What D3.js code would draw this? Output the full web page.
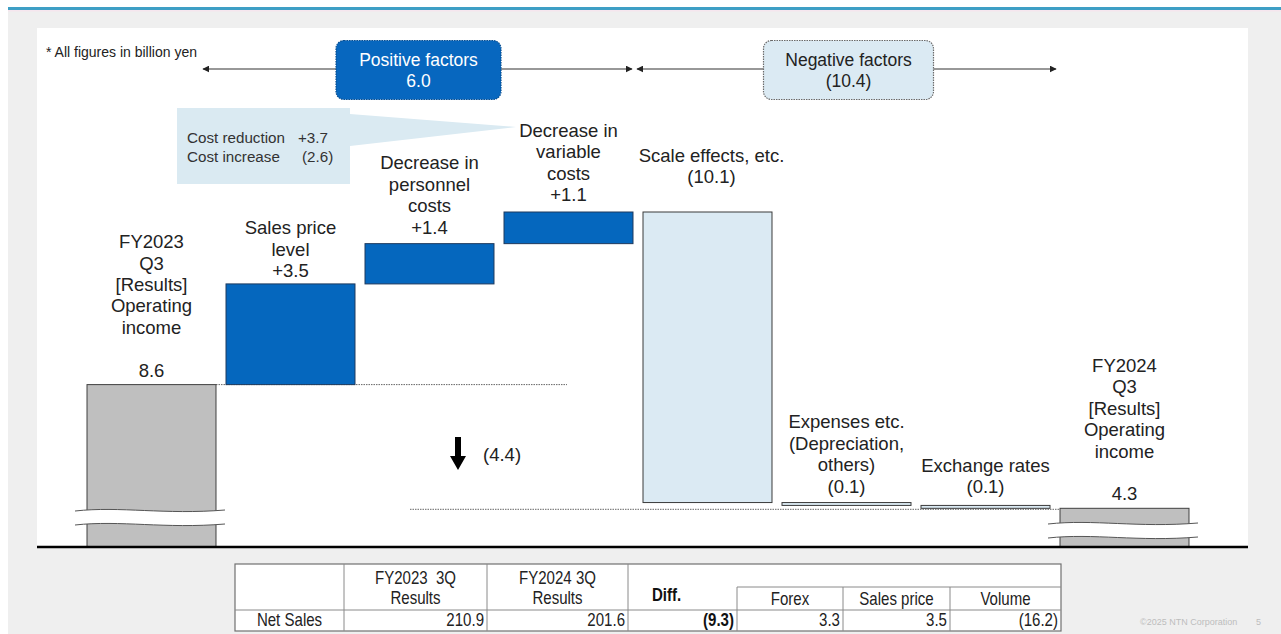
<!DOCTYPE html>
<html>
<head>
<meta charset="utf-8">
<script src="https://cdn.jsdelivr.net/npm/d3@7"></script>
<style>
  html, body { margin: 0; padding: 0; background: #fff; }
  svg { display: block; font-family: "Liberation Sans", Arial, sans-serif; }
</style>
</head>
<body>
<svg id="chart" width="1281" height="634"></svg>
<script>
// ---- data (billion yen) ----
const categories = ["FY2023 Q3", "Sales price level", "Personnel costs", "Variable costs",
                    "Scale effects", "Expenses etc.", "Exchange rates", "FY2024 Q3"];
const stepKinds  = ["total", "up", "up", "up", "down", "down", "down", "total"];
const stepValues = [8.6, 3.5, 1.4, 1.1, -10.1, -0.1, -0.1, 4.3];
const stepLabels = [
  ["FY2023", "Q3", "[Results]", "Operating", "income", "", "8.6"],
  ["Sales price", "level", "+3.5"],
  ["Decrease in", "personnel", "costs", "+1.4"],
  ["Decrease in", "variable", "costs", "+1.1"],
  ["Scale effects, etc.", "(10.1)"],
  ["Expenses etc.", "(Depreciation,", "others)", "(0.1)"],
  ["Exchange rates", "(0.1)"],
  ["FY2024", "Q3", "[Results]", "Operating", "income", "", "4.3"]
];
const factorNames  = ["Positive factors", "Negative factors"];
const factorValues = ["6.0", "(10.4)"];
const factorSpans  = [[1, 3], [4, 6]];
const costNames  = ["Cost reduction", "Cost increase"];
const costValues = ["+3.7", "(2.6)"];
const netChangeLabel = "(4.4)";
const noteText = "* All figures in billion yen";

const tableHeads    = [["FY2023  3Q", "Results"], ["FY2024 3Q", "Results"]];
const diffHead      = "Diff.";
const diffSubHeads  = ["Forex", "Sales price", "Volume"];
const tableRowLabel = "Net Sales";
const tableValues   = [210.9, 201.6, -9.3, 3.3, 3.5, -16.2];

// ---- layout ----
const svg = d3.select("#chart");
const W = 1281, H = 634;
const baseY = 547;            // drawn baseline (axis is broken below the totals)
const lineH = 21.4;
const labelFont = 18.5;
const labelGap = [8, 7, 10, 11, 29, 10, 12, 8];
const breakY = [517, 530];

// running totals for the waterfall
let run = 0;
const steps = stepValues.map((v, i) => {
  let lo, hi;
  if (stepKinds[i] === "total") { run = v; lo = 0; hi = v; }
  else { const s = run; run = s + v; lo = Math.min(s, run); hi = Math.max(s, run); }
  return { cat: categories[i], kind: stepKinds[i], v, lo, hi, labels: stepLabels[i], i };
});
const peak = d3.max(steps, d => d.hi);

const x = d3.scaleBand().domain(categories).range([82, 1194]).paddingInner(0.072).paddingOuter(0.036);
const y = d3.scaleLinear().domain([0, peak]).range([632, 212]);
const bw = x.bandwidth();

// ---- background ----
svg.append("rect").attr("x", 8).attr("y", 10).attr("width", W - 8).attr("height", H - 10).attr("fill", "#efefef");
svg.append("rect").attr("x", 8).attr("y", 7).attr("width", W - 8).attr("height", 3).attr("fill", "#3e9fc5");
svg.append("rect").attr("x", 8).attr("y", 10).attr("width", W - 8).attr("height", 1.5).attr("fill", "#f6e6ee");
svg.append("rect").attr("x", 37).attr("y", 28).attr("width", 1211).attr("height", baseY - 28).attr("fill", "#fff");

// ---- arrow markers ----
const defs = svg.append("defs");
defs.append("marker").attr("id", "tipEnd").attr("viewBox", "0 0 10 10").attr("refX", 9).attr("refY", 5)
  .attr("markerWidth", 7).attr("markerHeight", 7).attr("markerUnits", "userSpaceOnUse").attr("orient", "auto")
  .append("path").attr("d", "M0,0 L10,5 L0,10 Z").attr("fill", "#222");
defs.append("marker").attr("id", "tipStart").attr("viewBox", "0 0 10 10").attr("refX", 1).attr("refY", 5)
  .attr("markerWidth", 7).attr("markerHeight", 7).attr("markerUnits", "userSpaceOnUse").attr("orient", "auto")
  .append("path").attr("d", "M10,0 L0,5 L10,10 Z").attr("fill", "#222");

// ---- note ----
svg.append("text").attr("x", 46).attr("y", 57).attr("font-size", 14).attr("fill", "#222").text(noteText);

// ---- factor groups ----
const arrowY = 69;
factorNames.forEach((name, k) => {
  const [a, b] = factorSpans[k];
  const x0 = k === 0 ? x(categories[a]) - 23 : x(categories[a]) - 6;
  const x1 = k === 0 ? x(categories[b]) + bw - 1 : x(categories[b]) + bw + 6;
  svg.append("line").attr("x1", x0).attr("x2", x1).attr("y1", arrowY).attr("y2", arrowY)
    .attr("stroke", "#333").attr("stroke-width", 1.2)
    .attr("marker-start", "url(#tipStart)").attr("marker-end", "url(#tipEnd)");
  const cx = k === 0 ? (x0 + x1) / 2 + 1 : (x0 + x1) / 2 + 2;
  const bwBox = k === 0 ? 165 : 170;
  const g = svg.append("g");
  g.append("rect").attr("x", cx - bwBox / 2).attr("y", 40.5).attr("width", bwBox).attr("height", 59)
    .attr("rx", 8).attr("ry", 8)
    .attr("fill", k === 0 ? "#0767bf" : "#dbeaf3")
    .attr("stroke", k === 0 ? "#0b4f90" : "#6b6b6b").attr("stroke-width", 1.2)
    .attr("stroke-dasharray", "1.5,1");
  g.append("text").attr("x", cx).attr("y", 66).attr("text-anchor", "middle").attr("font-size", 17.5)
    .attr("fill", k === 0 ? "#fff" : "#222").text(name);
  g.append("text").attr("x", cx).attr("y", 87).attr("text-anchor", "middle").attr("font-size", 17.5)
    .attr("fill", k === 0 ? "#fff" : "#222").text(factorValues[k]);
});

// ---- cost callout ----
svg.append("path")
  .attr("d", "M177,108 L350,108 L350,114 L516,127 L350,146 L350,184 L177,184 Z")
  .attr("fill", "#daeaf2");
costNames.forEach((n, k) => {
  const t = svg.append("text").attr("y", 143 + k * 19).attr("font-size", 15.2).attr("fill", "#333");
  t.append("tspan").attr("x", 187).text(n);
  t.append("tspan").attr("x", k === 0 ? 298 : 302).text(costValues[k]);
});

// ---- connector dotted lines ----
const first = steps[0], last = steps[steps.length - 1];
svg.append("line").attr("x1", x(first.cat) + bw).attr("x2", 567)
  .attr("y1", y(first.hi)).attr("y2", y(first.hi))
  .attr("stroke", "#666").attr("stroke-width", 1).attr("stroke-dasharray", "1.5,1");
svg.append("line").attr("x1", 410).attr("x2", x(last.cat))
  .attr("y1", y(last.hi) + 1).attr("y2", y(last.hi) + 1)
  .attr("stroke", "#666").attr("stroke-width", 1).attr("stroke-dasharray", "1.5,1");

// ---- bars ----
const fills  = { total: "#bfbfbf", up: "#0567be", down: "#dbeaf3" };
const stroke = { total: "#404040", up: "#1f3a5e", down: "#3a3a3a" };
svg.append("g").selectAll("rect").data(steps).join("rect")
  .attr("x", d => x(d.cat))
  .attr("width", bw)
  .attr("y", d => y(d.hi))
  .attr("height", d => d.kind === "total" ? baseY - y(d.hi) : Math.max(y(d.lo) - y(d.hi), 1))
  .attr("fill", d => fills[d.kind])
  .attr("stroke", d => stroke[d.kind])
  .attr("stroke-width", 1);

// ---- axis breaks on the total bars ----
const totals = steps.filter(d => d.kind === "total");
totals.forEach((d, k) => {
  const x0 = x(d.cat) - 12, x1 = x(d.cat) + bw + 9, w = x1 - x0;
  const c = breakY[k], h = 7;
  const wave = (yy) => `M${x0},${yy + 1} C${x0 + w * 0.3},${yy - 4} ${x0 + w * 0.6},${yy + 5} ${x1},${yy}`;
  const waveBack = (yy) => `L${x1},${yy} C${x0 + w * 0.6},${yy + 5} ${x0 + w * 0.3},${yy - 4} ${x0},${yy + 1} Z`;
  svg.append("path").attr("d", wave(c - h) + " " + waveBack(c + h)).attr("fill", "#fff");
  svg.append("path").attr("d", wave(c - h)).attr("fill", "none").attr("stroke", "#555").attr("stroke-width", 1);
  svg.append("path").attr("d", wave(c + h)).attr("fill", "none").attr("stroke", "#555").attr("stroke-width", 1);
});

// ---- step labels ----
steps.forEach(d => {
  const cx = x(d.cat) + bw / 2 + (d.i === 4 ? 4 : 0);
  const bottom = y(d.hi) - labelGap[d.i];
  const n = d.labels.length;
  const t = svg.append("text").attr("text-anchor", "middle").attr("font-size", labelFont).attr("fill", "#222");
  d.labels.forEach((line, j) => {
    if (!line) return;
    t.append("tspan").attr("x", cx).attr("y", bottom - (n - 1 - j) * lineH).text(line);
  });
});

// ---- overall change marker ----
svg.append("path")
  .attr("d", "M455,437 L461,437 L461,456 L466,456 L458,470 L450,456 L455,456 Z")
  .attr("fill", "#000");
svg.append("text").attr("x", 483).attr("y", 461).attr("font-size", labelFont).attr("fill", "#222").text(netChangeLabel);

// ---- baseline ----
svg.append("line").attr("x1", 37).attr("x2", 1248).attr("y1", baseY).attr("y2", baseY)
  .attr("stroke", "#000").attr("stroke-width", 2.5);

// ---- net sales table ----
const colX = [235, 344, 487, 628, 737, 843, 950, 1061];
const rowY = [564, 587, 610, 631];
const tbl = svg.append("g");
tbl.append("rect").attr("x", colX[0]).attr("y", rowY[0]).attr("width", colX[7] - colX[0]).attr("height", rowY[3] - rowY[0])
  .attr("fill", "#fff").attr("stroke", "#707070").attr("stroke-width", 1.2);
const gridColor = "#8a8a8a";
[1, 2, 3].forEach(i => tbl.append("line").attr("x1", colX[i]).attr("x2", colX[i]).attr("y1", rowY[0]).attr("y2", rowY[3]).attr("stroke", gridColor));
[4, 5, 6].forEach(i => tbl.append("line").attr("x1", colX[i]).attr("x2", colX[i]).attr("y1", rowY[1]).attr("y2", rowY[3]).attr("stroke", gridColor));
tbl.append("line").attr("x1", colX[0]).attr("x2", colX[7]).attr("y1", rowY[2]).attr("y2", rowY[2]).attr("stroke", gridColor);
tbl.append("line").attr("x1", colX[4]).attr("x2", colX[7]).attr("y1", rowY[1]).attr("y2", rowY[1]).attr("stroke", gridColor);

// condensed cell text: horizontally squeezed glyphs
const tFont = 17.5, squeeze = 0.86;
function cellText(tx, ty, str, anchor, bold) {
  tbl.append("text")
    .attr("transform", `translate(${tx},${ty}) scale(${squeeze},1)`)
    .attr("text-anchor", anchor).attr("font-size", tFont)
    .attr("font-weight", bold ? "bold" : "normal")
    .attr("fill", bold ? "#111" : "#222")
    .attr("xml:space", "preserve").text(str);
}
tableHeads.forEach((lines, k) => {
  const cx = (colX[k + 1] + colX[k + 2]) / 2;
  lines.forEach((ln, j) => cellText(cx, 584 + j * 20, ln, "middle", false));
});
cellText(colX[3] + 24, 601, diffHead, "start", true);
diffSubHeads.forEach((h, k) => cellText((colX[k + 4] + colX[k + 5]) / 2, 605, h, "middle", false));
cellText((colX[0] + colX[1]) / 2, 626, tableRowLabel, "middle", false);
const fmt = v => v < 0 ? `(${d3.format(".1f")(-v)})` : d3.format(".1f")(v);
tableValues.forEach((v, k) => cellText(colX[k + 2] - 3, 626, fmt(v), "end", k === 2));

// ---- footer ----
svg.append("text").attr("x", 1140).attr("y", 625).attr("font-size", 9).attr("fill", "#bdbdbd").text("©2025 NTN Corporation");
svg.append("text").attr("x", 1256).attr("y", 625).attr("font-size", 9).attr("fill", "#bdbdbd").text("5");
</script>
</body>
</html>
